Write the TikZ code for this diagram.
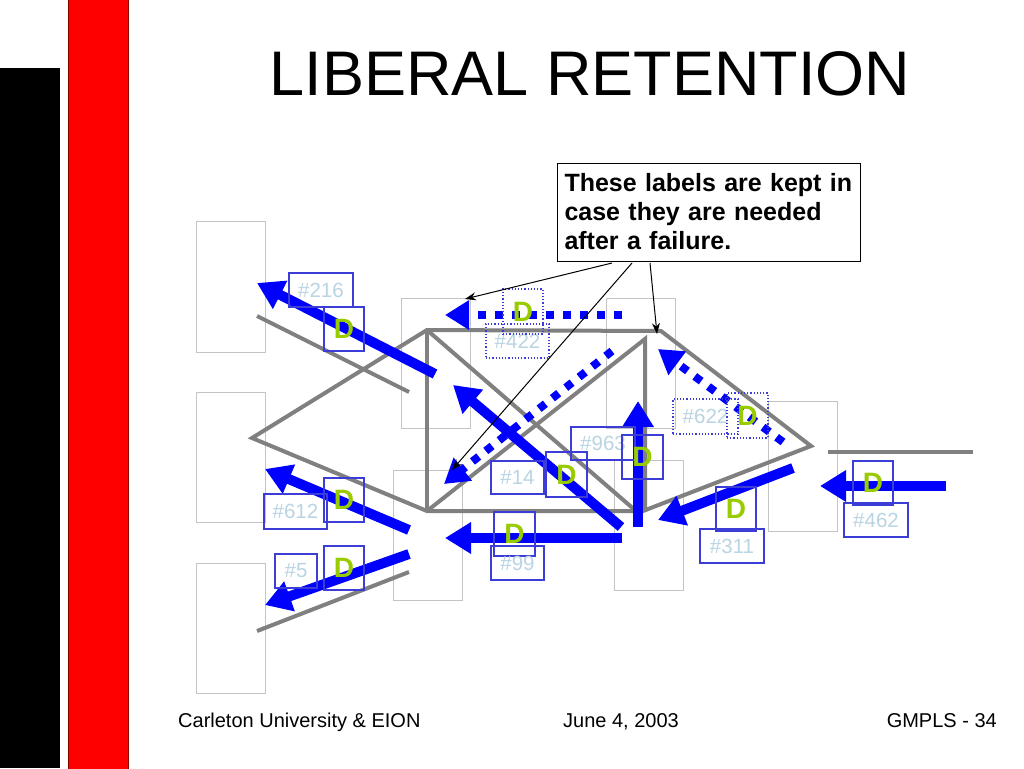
\documentclass[tikz,border=0pt]{standalone}
\usepackage{fontspec}
\setmainfont{Liberation Sans}
\usetikzlibrary{arrows.meta}
\definecolor{barred}{RGB}{255,0,0}
\definecolor{bardark}{RGB}{140,0,0}
\definecolor{netgray}{RGB}{128,128,128}
\definecolor{phgray}{RGB}{196,196,196}
\definecolor{lblblue}{RGB}{60,60,215}
\definecolor{lbltext}{RGB}{185,212,226}
\definecolor{dgreen}{RGB}{153,204,0}
\definecolor{arrblue}{RGB}{0,0,255}
\begin{document}
\begin{tikzpicture}[x=1pt,y=-1pt,
  placeholder/.style={draw=phgray, line width=0.8pt},
  netline/.style={draw=netgray, line width=4pt, line join=miter},
  barrow/.style={draw=arrblue, line width=10pt, -{Triangle[length=26pt,width=30pt]}},
  dotarrow/.style={draw=arrblue, line width=8pt, dash pattern=on 8pt off 9pt, -{Triangle[length=24pt,width=28pt]}},
  lbl/.style={draw=lblblue, line width=1.2pt, text=lbltext, inner sep=0pt,
     font=\fontsize{20.5}{20.5}\selectfont},
  lbldot/.style={lbl, dotted},
  dbox/.style={draw=lblblue, line width=1.2pt, text=dgreen, inner sep=0pt,
     minimum width=40pt, minimum height=44pt, font=\fontsize{28}{28}\selectfont\bfseries},
  dboxdot/.style={dbox, dotted},
  callarrow/.style={draw=black, line width=1pt, -{Stealth[length=11pt,width=8pt]}},
  foot/.style={font=\fontsize{20}{20}\selectfont, inner sep=0pt, anchor=base west}
]
\useasboundingbox (0,0) rectangle (1024,768);
\fill[white] (0,0) rectangle (1024,768);

% left bars
\fill[black] (0,68) rectangle (60,768);
\filldraw[fill=barred, draw=bardark, line width=1pt] (68,-2) rectangle (128,770);

% title
\node[font=\fontsize{63}{63}\selectfont, inner sep=0pt, anchor=base] (title) at (590,95) {LIBERAL RETENTION};

% image placeholders
\draw[placeholder] (196,221) rectangle (265,352);
\draw[placeholder] (196,392) rectangle (265,522);
\draw[placeholder] (196,563) rectangle (265,693);
\draw[placeholder] (401,298) rectangle (470,428);
\draw[placeholder] (606,298) rectangle (675,428);
\draw[placeholder] (393,470) rectangle (462,600);
\draw[placeholder] (614,460) rectangle (683,590);
\draw[placeholder] (768,401) rectangle (837,531);

% network lines
\draw[netline] (252,438) -- (427,330) -- (661,331) -- (811,446) -- (643,511) -- (427,511) -- cycle;
\draw[netline] (427,330) -- (427,511);
\draw[netline] (427,330) -- (636,511);
\draw[netline] (427,511) -- (645,339) -- (645,511);
\draw[netline] (257,316) -- (409,392);
\draw[netline] (257,631) -- (409,572);
\draw[netline] (828,452) -- (973,452);

% arrow end points
\coordinate (t216) at (435,374);   \coordinate (h216) at (257,283);
\coordinate (t14) at (621,527);    \coordinate (h14) at (453,385);
\coordinate (t963) at (638,527);   \coordinate (h963) at (638,401);
\coordinate (t99) at (622,538);    \coordinate (h99) at (445,538);
\coordinate (t311) at (793,468);   \coordinate (h311) at (658,520);
\coordinate (t462) at (946,486);   \coordinate (h462) at (820,486);
\coordinate (t612) at (409,530);   \coordinate (h612) at (265,469);
\coordinate (t5) at (409,554);     \coordinate (h5) at (265,605);
\coordinate (t422) at (622,315);   \coordinate (h422) at (445,315);
\coordinate (tdg) at (612,351);    \coordinate (hdg) at (444,484);
\coordinate (t622) at (783,442);   \coordinate (h622) at (658,349);

% blue arrows
\draw[barrow] (t216) -- (h216);
\draw[barrow] (t14) -- (h14);
\draw[barrow] (t963) -- (h963);
\draw[barrow] (t99) -- (h99);
\draw[barrow] (t311) -- (h311);
\draw[barrow] (t462) -- (h462);
\draw[barrow] (t612) -- (h612);
\draw[barrow] (t5) -- (h5);
\draw[dotarrow] (t422) -- (h422);
\draw[dotarrow] (tdg) -- (hdg);
\draw[dotarrow] (t622) -- (h622);

% labels
\node[lbl, minimum width=64pt, minimum height=34pt] (l216) at (321,290) {\#216};
\node[dbox] (d216) at (344,329) {D};
\node[lbldot, minimum width=63pt, minimum height=34pt] (l422) at (517.5,341) {\#422};
\node[dboxdot, minimum height=45pt] (d422) at (523,311.5) {D};
\node[lbl, minimum width=64pt, minimum height=33pt] (l963) at (603,443.5) {\#963};
\node[dbox, minimum width=41pt] (d963) at (642.5,457) {D};
\node[lbl, minimum width=53pt, minimum height=33pt] (l14) at (517.5,477.5) {\#14};
\node[dbox, minimum width=41pt, minimum height=45pt] (d14) at (566.5,474.5) {D};
\node[dbox, minimum width=41pt] (d99) at (514.5,534) {D};
\node[lbl, minimum width=53pt, minimum height=34pt] (l99) at (517.5,563) {\#99};
\node[lbldot, minimum width=65pt, minimum height=35pt] (l622) at (705.5,416.5) {\#622};
\node[dboxdot, minimum width=41pt, minimum height=45pt] (d622) at (747.5,415.5) {D};
\node[dbox] (d311) at (736,509) {D};
\node[lbl, minimum width=64pt, minimum height=34pt] (l311) at (732,546) {\#311};
\node[dbox] (d462) at (873,483) {D};
\node[lbl, minimum width=64pt, minimum height=34pt] (l462) at (876,520) {\#462};
\node[lbl, minimum width=63pt, minimum height=35pt] (l612) at (295.5,511.5) {\#612};
\node[dbox] (d612) at (344,500) {D};
\node[lbl, minimum width=42pt, minimum height=34pt] (l5) at (296,571) {\#5};
\node[dbox] (d5) at (344,568) {D};

% callout
\node[draw=black, line width=1pt, fill=white, minimum width=303pt, minimum height=98pt,
      text width=288pt, align=left, inner sep=0pt,
      font=\fontsize{25}{29}\selectfont\bfseries] (note) at (708.5,212)
  {These labels are kept in\\case they are needed\\after a failure.};
\coordinate (c1) at (612,263); \coordinate (e1) at (465,299);
\coordinate (c2) at (632,263); \coordinate (e2) at (452,470);
\coordinate (c3) at (650,263); \coordinate (e3) at (657,334);
\draw[callarrow] (c1) -- (e1);
\draw[callarrow] (c2) -- (e2);
\draw[callarrow] (c3) -- (e3);

% footer
\node[foot] (f1) at (178,727) {Carleton University \& EION};
\node[foot] (f2) at (563,727) {June 4, 2003};
\node[foot, anchor=base east] (f3) at (997,727) {GMPLS - 34};
\end{tikzpicture}
\end{document}
